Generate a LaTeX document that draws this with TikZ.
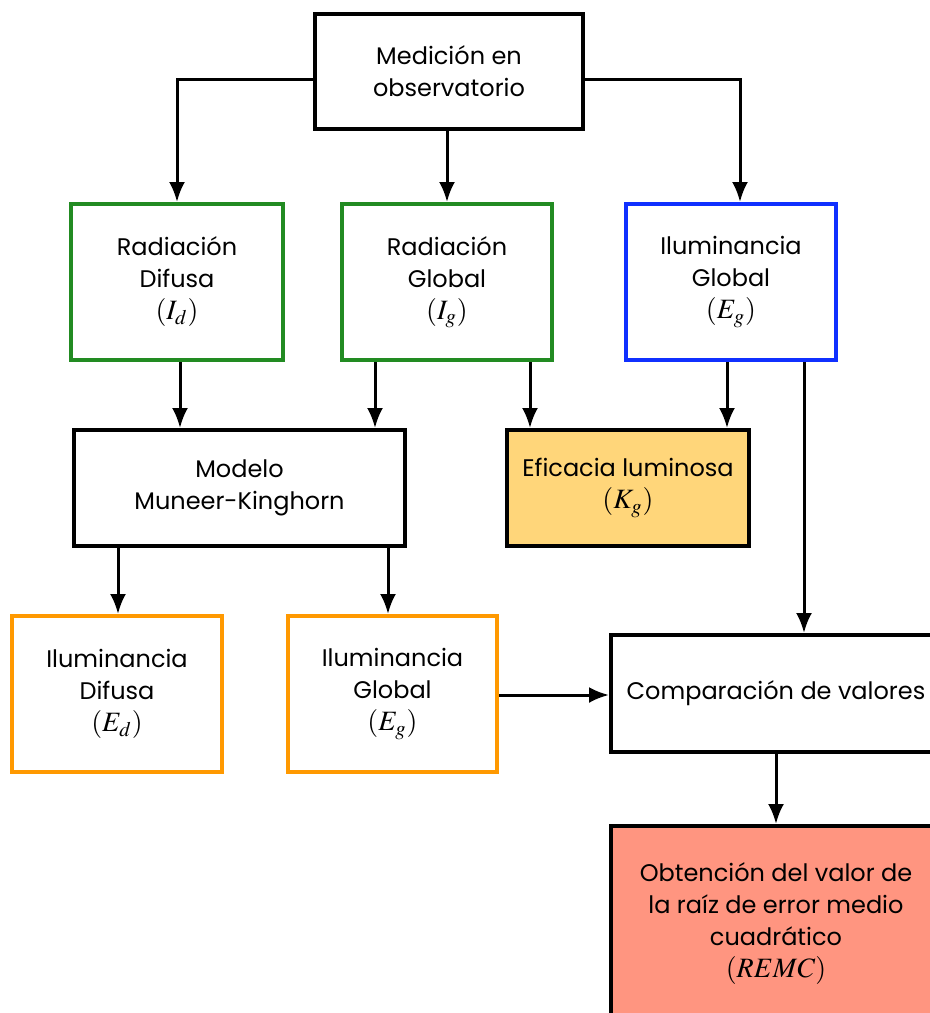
\documentclass[tikz,border=0pt]{standalone}
\usepackage{amsmath,mathptmx,fontspec}
\setmainfont{Poppins}
\usetikzlibrary{arrows.meta}

\definecolor{verde}{RGB}{34,139,34}
\definecolor{azul}{RGB}{16,48,255}
\definecolor{naranja}{RGB}{255,153,0}
\definecolor{amarillo}{RGB}{255,214,122}
\definecolor{salmon}{RGB}{255,149,128}

\newcommand{\simb}[1]{{\fontsize{14}{16}\selectfont\(( #1 )\)}}

\tikzset{
  caja/.style={draw, line width=2pt, align=center, inner sep=0pt,
    font=\fontsize{12}{16}\selectfont},
  flecha/.style={arrows={-{Latex[length=10pt,width=8pt]}}, line width=1.5pt}
}

\begin{document}
\begin{tikzpicture}[x=0.5pt, y=-0.5pt]
\useasboundingbox (0,0) rectangle (930,1013);
\clip (0,0) rectangle (930,1013);

\node[caja, minimum width=134pt, minimum height=57.5pt] at (449,71.5) (med)
  {Medición en\\observatorio};

\node[caja, draw=verde, minimum width=106pt, minimum height=78pt] at (177,282) (rdif)
  {Radiación\\Difusa\\\simb{I_d}};
\node[caja, draw=verde, minimum width=105pt, minimum height=78pt] at (447,282) (rglob)
  {Radiación\\Global\\\simb{I_g}};
\node[caja, draw=azul, minimum width=105pt, minimum height=78pt] at (731,282) (ilum)
  {Iluminancia\\Global\\\simb{E_g}};

\node[caja, minimum width=165.5pt, minimum height=58pt] at (239.5,488) (modelo)
  {Modelo\\Muneer-Kinghorn};
\node[caja, fill=amarillo, minimum width=121pt, minimum height=58pt] at (628,488) (efic)
  {Eficacia luminosa\\\simb{K_g}};

\node[caja, draw=naranja, minimum width=105pt, minimum height=78pt] at (117,694) (idif)
  {Iluminancia\\Difusa\\\simb{E_d}};
\node[caja, draw=naranja, minimum width=104.5pt, minimum height=78pt] at (392.5,694) (iglob)
  {Iluminancia\\Global\\\simb{E_g}};

\node[caja, minimum width=165pt, minimum height=58.5pt] at (776,693.5) (comp)
  {Comparación de valores};
\node[caja, fill=salmon, minimum width=165pt, minimum height=98pt] at (776,924) (obt)
  {Obtención del valor de\\la raíz de error medio\\cuadrático\\\simb{REMC}};

% desde la medicion
\draw[flecha] (med.west |- 0,79) -| (rdif.north);
\draw[flecha] (med.south -| rglob.north) -- (rglob.north);
\draw[flecha] (med.east |- 0,79) -| (ilum.north -| 740,0);

% hacia el modelo y la eficacia
\draw[flecha] (rdif.south -| 180,0) -- (modelo.north -| 180,0);
\draw[flecha] (rglob.south -| 375,0) -- (modelo.north -| 375,0);
\draw[flecha] (rglob.south -| 530,0) -- (efic.north -| 530,0);
\draw[flecha] (ilum.south -| 727,0) -- (efic.north -| 727,0);
\draw[flecha] (ilum.south -| 804,0) -- (comp.north -| 804,0);

% salidas del modelo
\draw[flecha] (modelo.south -| 118,0) -- (idif.north -| 118,0);
\draw[flecha] (modelo.south -| 388,0) -- (iglob.north -| 388,0);
\draw[flecha] (iglob.east |- 0,695) -- (comp.west |- 0,695);
\draw[flecha] (comp.south) -- (obt.north);
\end{tikzpicture}
\end{document}
